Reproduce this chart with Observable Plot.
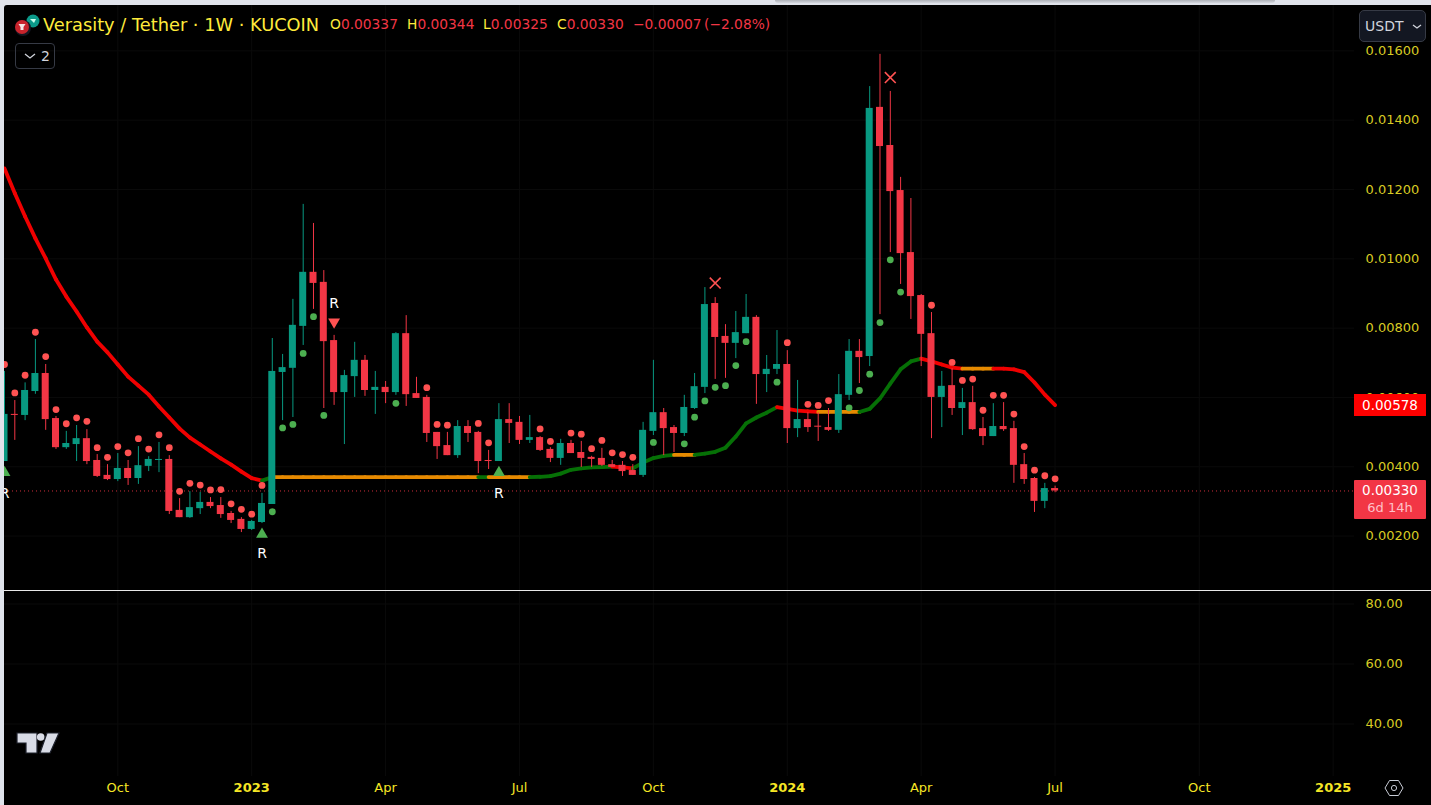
<!DOCTYPE html>
<html><head><meta charset="utf-8">
<script src="https://cdn.jsdelivr.net/npm/d3@7"></script>
<script src="https://cdn.jsdelivr.net/npm/@observablehq/plot@0.6"></script>
<style>
html,body{margin:0;padding:0;width:1431px;height:805px;overflow:hidden;background:#e0e3eb;font-family:"DejaVu Sans",sans-serif}
#frame{position:absolute;left:4px;top:5px;width:1427px;height:800px;background:#000;border-top-left-radius:3px}
#stage{position:absolute;left:0;top:0;width:1431px;height:805px}
#stage svg.plot{position:absolute;left:0;background:transparent}
.t{position:absolute;white-space:nowrap;line-height:1}
</style></head><body>
<div id="frame"></div><div id="stage"></div>
<script>
// Prices in units of 0.00001 USDT, one entry per weekly bar
const opens=[415,551,548,617,669,539,455,464,481,418,375,363,395,366,401,418,421,274,253,279,297,288,265,248,219,239,291,672,684,805,961,932,764,614,660,707,620,629,614,784,611,600,499,461,432,516,499,418,415,536,528,476,484,450,424,467,441,427,424,406,404,389,375,502,556,513,496,568,629,871,776,756,784,831,666,681,695,510,536,517,513,505,606,733,718,1437,1327,1197,1018,894,784,600,634,568,585,510,487,516,510,406,366,300,337];
const closes=[551,548,620,669,536,455,467,481,415,372,363,395,366,403,421,421,271,253,282,297,285,262,245,219,242,294,675,686,808,961,929,761,614,663,707,620,629,614,784,608,597,496,458,432,516,496,415,415,536,525,476,484,447,424,467,438,424,421,404,398,386,375,505,556,510,496,571,631,868,773,756,787,831,666,681,695,510,536,513,514,505,608,733,715,1434,1324,1194,1015,891,782,600,632,568,585,507,487,516,507,404,363,300,337,330];
const highs=[675,591,642,767,695,545,502,519,507,435,406,438,418,458,429,470,432,308,328,326,311,311,271,253,245,323,770,724,883,1157,1102,966,779,678,759,721,675,646,787,836,658,606,499,499,533,533,502,447,582,582,545,548,487,455,479,476,473,430,453,418,415,406,528,707,568,519,606,669,917,888,810,848,897,836,721,793,735,649,556,556,568,666,767,767,1497,1590,1483,1235,1174,897,845,675,683,626,632,542,582,585,531,438,369,352,344];
const lows=[415,476,533,609,505,450,450,415,406,369,360,357,346,349,386,383,262,253,251,262,279,251,236,210,216,236,291,533,542,750,854,568,577,464,600,603,551,582,606,574,597,470,421,432,424,470,380,392,415,467,464,467,444,412,404,438,398,398,401,398,372,375,369,490,432,441,487,565,611,652,655,712,784,580,614,666,467,484,499,473,502,496,591,640,689,839,1018,926,825,689,481,513,548,490,505,461,487,502,352,349,268,279,325];
// Stop dots: price and side for each bar (null = no dot)
const stopPrices=[695,613,664,788,718,565,524,541,531,455,427,458,440,481,451,492,455,329,352,347,333,334,293,277,263,346,270,512,522,727,833,548,null,null,null,null,null,null,583,null,null,628,522,520,null,null,525,469,null,null,null,null,509,473,null,497,494,452,476,440,435,427,null,470,null,null,466,543,590,629,634,692,761,null,null,644,758,null,580,577,591,null,570,620,667,816,997,904,null,null,866,null,701,649,653,563,606,606,552,458,390,374,365];
const stopSides=["s","s","s","s","s","s","s","s","s","s","s","s","s","s","s","s","s","s","s","s","s","s","s","s","s","s","l","l","l","l","l","l",null,null,null,null,null,null,"l",null,null,"s","s","s",null,null,"s","s",null,null,null,null,"s","s",null,"s","s","s","s","s","s","s",null,"l",null,null,"l","l","l","l","l","l","l",null,null,"l","s",null,"s","s","s",null,"l","l","l","l","l","l",null,null,"s",null,"s","s","s","s","s","s","s","s","s","s","s"];
// Moving average, one value per bar
const maValues=[1261,1189,1122,1059,1001,940,891,848,802,761,730,695,660,634,608,574,542,510,484,464,444,424,406,386,367,360,370,370,370,370,370,370,370,370,370,370,370,370,370,370,370,370,370,370,370,370,370,370,370,370,370,370,371,373,380,391,395,398,399,400,398,395,412,425,431,434,434,434,438,443,455,487,525,542,556,572,567,562,560,558,558,558,558,558,567,597,640,681,704,712,704,695,686,683,683,683,683,683,681,673,643,608,578];
// Trend of the average: [state, number of weekly segments]
const maRuns=[["down",25],["up",1],["flat",20],["up",1],["flat",4],["up",8],["down",2],["up",4],["flat",2],["up",8],["down",4],["flat",4],["up",6],["down",4],["flat",3],["down",6]];
// Signal markers
const upArrowBars=[0,25,48], upArrowPrices=[383,205,383];
const downArrowBars=[32], downArrowPrices=[818];
const crossBars=[69,86], crossPrices=[930,1523];
const rBars=[0,25,48,32], rPrices=[323,149,323,871];
// Axes
const priceTicks=[0.002,0.004,0.006,0.008,0.010,0.012,0.014,0.016];
const oscTicks=[40,60,80];
const monthBars=[11,37,50,63,89,102,116], monthLabels=["Oct","Apr","Jul","Oct","Apr","Jul","Oct"];
const yearBars=[24,76,129], yearLabels=["2023","2024","2025"];
const lastClose=0.0033, lastMa=0.00578;

const UNIT=1e-5, GREEN="#089981", RED="#f23645";
const bars=opens.map((o,i)=>({i,o:o*UNIT,c:closes[i]*UNIT,h:highs[i]*UNIT,l:lows[i]*UNIT,col:closes[i]>=o?GREEN:RED}));
const stops=stopPrices.map((p,i)=>({i,p:p*UNIT,s:stopSides[i]})).filter(d=>d.s);
const segs=[];let k=0;
for(const [state,n] of maRuns){for(let j=0;j<n;j++,k++)segs.push({x1:k,x2:k+1,y1:maValues[k]*UNIT,y2:maValues[k+1]*UNIT,state});}
const pts=(xs,ys)=>xs.map((x,i)=>({x,y:ys[i]*UNIT}));
const FONT='"DejaVu Sans",sans-serif';
const allBars=[...monthBars,...yearBars];
const xDomain=[0,131.068];
const gridC="#0a0a0a";

const main=Plot.plot({
  width:1431,height:590,marginLeft:4,marginRight:77,marginTop:5,marginBottom:0,
  style:{background:"transparent",fontFamily:FONT,top:"0px"},
  x:{type:"linear",domain:xDomain,axis:null},
  y:{type:"linear",domain:[0.000428,0.01731],axis:null},
  color:{type:"ordinal",domain:["down","up","flat"],range:["#f00000","#067006","#e68a00"]},
  marks:[
    Plot.gridX(allBars,{stroke:gridC,strokeOpacity:1}),
    Plot.gridY(priceTicks,{stroke:gridC,strokeOpacity:1}),
    Plot.axisY({anchor:"right",ticks:priceTicks,tickSize:0,tickPadding:11,tickFormat:d=>d.toFixed(5),fill:"#d8cb24",fontSize:13,label:null}),
    Plot.ruleY([lastClose],{stroke:RED,strokeDasharray:"1 3",strokeWidth:1,strokeOpacity:0.85}),
    Plot.link(segs,{x1:"x1",x2:"x2",y1:"y1",y2:"y2",stroke:"state",strokeWidth:3.8,strokeLinecap:"round",clip:true}),
    Plot.ruleX(bars,{x:"i",y1:"l",y2:"h",stroke:"col",strokeWidth:1,clip:true}),
    Plot.rect(bars,{x1:d=>d.i-0.34,x2:d=>d.i+0.34,y1:"o",y2:"c",fill:"col",clip:true}),
    Plot.dot(stops,{x:"i",y:"p",r:3.4,fill:d=>d.s==="l"?"#4caf50":"#ff5252",clip:true}),
    Plot.dot(pts(upArrowBars,upArrowPrices),{x:"x",y:"y",symbol:"triangle",r:4.4,fill:"#4caf50",clip:true}),
    Plot.dot(pts(downArrowBars,downArrowPrices),{x:"x",y:"y",symbol:"triangle",rotate:180,r:4.4,fill:"#ff5252",clip:true}),
    Plot.dot(pts(crossBars,crossPrices),{x:"x",y:"y",symbol:"times",r:5,stroke:"#ff5252",strokeWidth:1.6,clip:true}),
    Plot.text(pts(rBars,rPrices),{x:"x",y:"y",text:()=>"R",fill:"#ffffff",fontSize:14,clip:true})
  ]
});
main.classList.add("plot");

const lower=Plot.plot({
  width:1431,height:215,marginLeft:4,marginRight:77,marginTop:1,marginBottom:29,
  style:{background:"transparent",fontFamily:FONT,top:"590px"},
  x:{type:"linear",domain:xDomain,axis:null},
  y:{type:"linear",domain:[22.5,84.17],axis:null},
  marks:[
    Plot.gridX(allBars,{stroke:gridC,strokeOpacity:1}),
    Plot.gridY(oscTicks,{stroke:gridC,strokeOpacity:1}),
    Plot.axisY({anchor:"right",ticks:oscTicks,tickSize:0,tickPadding:11,tickFormat:d=>d.toFixed(2),fill:"#d8cb24",fontSize:13,label:null}),
    Plot.axisX({anchor:"bottom",ticks:monthBars,tickSize:0,tickPadding:6,tickFormat:d=>monthLabels[monthBars.indexOf(d)],fill:"#f5e625",fontSize:13,label:null}),
    Plot.axisX({anchor:"bottom",ticks:yearBars,tickSize:0,tickPadding:6,tickFormat:d=>yearLabels[yearBars.indexOf(d)],fill:"#f5e625",fontSize:13,fontWeight:"bold",label:null})
  ]
});
lower.classList.add("plot");
const stage=document.getElementById("stage");
stage.append(main,lower);

const yS=main.scale("y");
function add(html,style){const e=document.createElement("div");e.className="t";e.style.cssText=style;e.innerHTML=html;stage.append(e);return e;}
// Shadow from the browser chrome
add("","left:775px;top:0;width:500px;height:3px;background:linear-gradient(#aeb1b8,#d5d8df);border-radius:0 0 6px 6px");
// Separator between the panes
add("","left:4px;top:590px;width:1427px;height:1px;background:#e8e8e8");
// Price labels
const yMa=yS.apply(lastMa), yC=yS.apply(lastClose);
add("0.00578",`left:1354px;top:${yMa-11}px;width:72px;height:22px;line-height:22px;background:#ff0000;color:#fff;font-size:13.5px;text-align:center`);
add(`<div style="height:20px;line-height:20px;color:#fff;font-size:13.5px">0.00330</div><div style="height:17px;line-height:16px;color:#ffc0c8;font-size:13px">6d 14h</div>`,`left:1354px;top:${yC-10}px;width:72px;height:39px;background:#f23645;text-align:center;border-radius:1px`);
// Header
const Y="#ffeb3b",R2="#f23645";
add("Verasity / Tether · 1W · KUCOIN",`left:43px;top:16px;font-size:17.8px;color:${Y}`);
const ohlc=[["O","0.00337",330],["H","0.00344",407],["L","0.00325",483],["C","0.00330",557]];
for(const [a,b,x] of ohlc)add(`<span style="color:${Y}">${a}</span><span style="color:${R2}">${b}</span>`,`left:${x}px;top:18px;font-size:13.8px`);
add("−0.00007",`left:633px;top:18px;font-size:13.8px;color:${R2}`);
add("(−2.08%)",`left:704px;top:18px;font-size:13.8px;color:${R2}`);
// Symbol logos, indicators toggle, currency, TV logo, settings
stage.insertAdjacentHTML("beforeend",`
<svg style="position:absolute;left:12px;top:12px" width="30" height="26" viewBox="0 0 30 26">
<circle cx="21" cy="9" r="6.5" fill="#0b9a8a"/><path d="M18 7h6l-2 4z" fill="#cfe"/>
<circle cx="11" cy="16" r="8" fill="#131722"/><circle cx="10" cy="15" r="7" fill="#c8242c"/><path d="M6.5 12h7l-2 3v3h-3v-3z" fill="#f5e6e6"/></svg>
<div style="position:absolute;left:15px;top:43px;width:38px;height:24px;border:1px solid #363a45;border-radius:4px;color:#d1d4dc;font-size:14px;line-height:24px;box-sizing:content-box">
<svg width="12" height="8" style="position:absolute;left:8px;top:9px"><path d="M1 1l5 4 5-4" fill="none" stroke="#d1d4dc" stroke-width="1.3"/></svg><span style="position:absolute;left:25px;top:0">2</span></div>
<div style="position:absolute;left:1359px;top:10px;width:67px;height:32px;background:#131722;border:1px solid #363a45;border-radius:5px;box-sizing:border-box;color:#d1d4dc;font-size:14px;line-height:30px;padding-left:5px">USDT
<svg width="10" height="6" style="position:absolute;left:52px;top:13px"><path d="M1 1l4 3 4-3" fill="none" stroke="#d1d4dc" stroke-width="1.3"/></svg></div>
<svg style="position:absolute;left:16px;top:731px" width="44" height="24" viewBox="0 0 44 24">
<path d="M1 2h20v20H10V12H1z" fill="#d9dce6" stroke="#1e222d" stroke-width="1.2"/><circle cx="24.7" cy="6" r="3.8" fill="#d9dce6"/>
<path d="M31 2h12L34 22H24z" fill="#d9dce6" stroke="#1e222d" stroke-width="1.2"/></svg>
<svg style="position:absolute;left:1384px;top:778px" width="20" height="20" viewBox="0 0 20 20">
<path d="M5.5 2.5h9L19 10l-4.5 7.5h-9L1 10z" fill="none" stroke="#c8ccd6" stroke-width="1"/><circle cx="10" cy="10" r="2.6" fill="none" stroke="#c8ccd6" stroke-width="1"/></svg>`);
</script>
</body></html>
